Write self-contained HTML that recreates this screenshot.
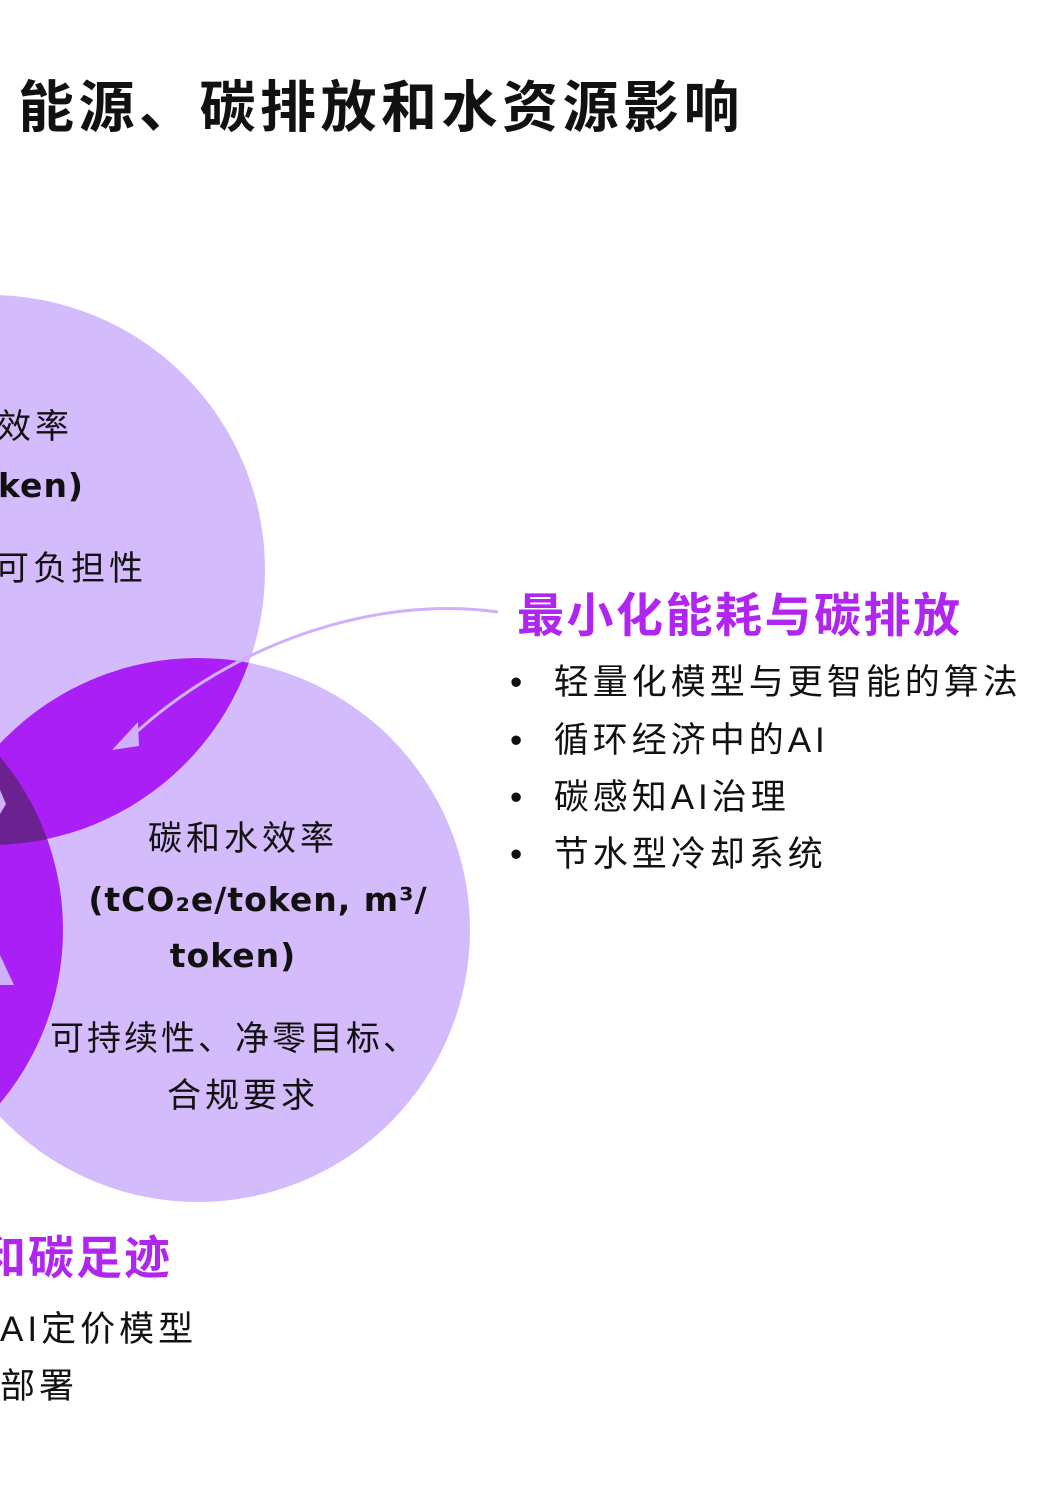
<!DOCTYPE html>
<html><head><meta charset="utf-8"><style>
html,body{margin:0;padding:0;background:#fff;}
body{width:1054px;height:1510px;position:relative;overflow:hidden;font-family:"Liberation Sans","Noto Sans CJK SC",sans-serif;}
.t{position:absolute;white-space:nowrap;line-height:1;color:#111;}
.b{letter-spacing:4px;}
.d{font-family:"DejaVu Sans","Noto Sans CJK SC",sans-serif;font-weight:bold;}
</style></head><body>
<svg width="1054" height="1510" style="position:absolute;left:0;top:0">
<defs>
<clipPath id="cA"><circle cx="-10" cy="570" r="275"/></clipPath>
<clipPath id="cB"><circle cx="198" cy="930" r="272"/></clipPath>
</defs>
<circle cx="-10" cy="570" r="275" fill="#d4bbfb"/>
<circle cx="198" cy="930" r="272" fill="#d4bbfb"/>
<circle cx="-207" cy="930" r="270" fill="#d4bbfb"/>
<g clip-path="url(#cA)"><circle cx="198" cy="930" r="272" fill="#a91ff6"/><circle cx="-207" cy="930" r="270" fill="#a91ff6"/></g>
<g clip-path="url(#cB)"><circle cx="-207" cy="930" r="270" fill="#a91ff6"/></g>
<g clip-path="url(#cA)"><g clip-path="url(#cB)"><circle cx="-207" cy="930" r="270" fill="#6c2190"/></g></g>
<path d="M498,612 C380,595 235,640 130,738" fill="none" stroke="#cfb0fb" stroke-width="3"/>
<polygon points="112,750 138,722 139,746" fill="#cfb0fb"/>
<polygon points="0,790 6,804 0,814" fill="#cfb0fb"/>
<polygon points="0,955 14,985 0,985" fill="#cfb0fb"/>
</svg>
<div class="t" style="left:18px;top:80px;font-size:56px;font-weight:bold;letter-spacing:4.5px;">能源、碳排放和水资源影响</div>
<div class="t b" style="left:-3px;top:410px;font-size:34px;">效率</div>
<div class="t d" style="left:-2px;top:469px;font-size:33px;letter-spacing:1px;">ken)</div>
<div class="t b" style="left:-5px;top:552px;font-size:34px;">可负担性</div>
<div class="t b" style="left:93px;width:300px;text-align:center;top:822px;font-size:34px;">碳和水效率</div>
<div class="t d" style="left:58px;width:400px;text-align:center;top:883px;font-size:33px;letter-spacing:1px;">(tCO₂e/token, m³/</div>
<div class="t d" style="left:83px;width:300px;text-align:center;top:939px;font-size:33px;letter-spacing:1px;">token)</div>
<div class="t" style="left:30px;width:410px;text-align:center;top:1022px;font-size:34px;letter-spacing:3px;">可持续性、净零目标、</div>
<div class="t b" style="left:93px;width:300px;text-align:center;top:1079px;font-size:34px;">合规要求</div>
<div class="t" style="left:517px;top:592px;font-size:47px;font-weight:bold;color:#b026f0;letter-spacing:2.5px;">最小化能耗与碳排放</div>
<div class="t b" style="left:510px;top:665px;font-size:35px;">•&nbsp;&nbsp;轻量化模型与更智能的算法</div>
<div class="t b" style="left:510px;top:723px;font-size:35px;">•&nbsp;&nbsp;循环经济中的AI</div>
<div class="t b" style="left:510px;top:780px;font-size:35px;">•&nbsp;&nbsp;碳感知AI治理</div>
<div class="t b" style="left:510px;top:837px;font-size:35px;">•&nbsp;&nbsp;节水型冷却系统</div>
<div class="t" style="left:-20px;top:1235px;font-size:46px;font-weight:bold;color:#b026f0;letter-spacing:2px;">和碳足迹</div>
<div class="t b" style="left:0px;top:1312px;font-size:35px;">AI定价模型</div>
<div class="t b" style="left:0px;top:1369px;font-size:35px;">部署</div>
</body></html>
